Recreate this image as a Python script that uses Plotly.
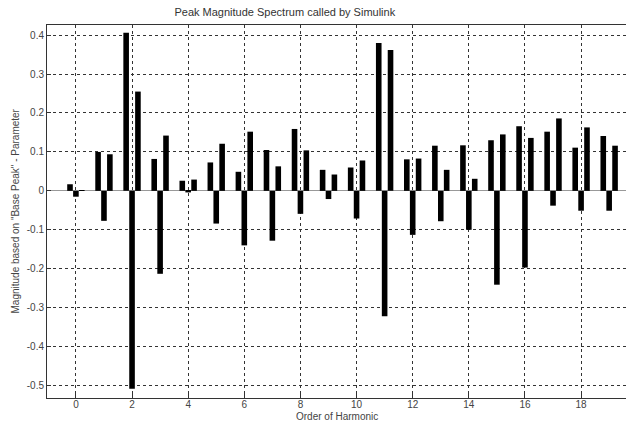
import plotly.graph_objects as go

harmonics = list(range(20))
series_a = [0.017, 0.100, 0.406, 0.082, 0.026, 0.073, 0.049, 0.105, 0.159, 0.054,
            0.060, 0.380, 0.081, 0.116, 0.117, 0.130, 0.166, 0.152, 0.111, 0.141]
series_b = [-0.015, -0.077, -0.508, -0.213, -0.004, -0.084, -0.140, -0.128, -0.059, -0.021,
            -0.071, -0.322, -0.113, -0.078, -0.100, -0.241, -0.197, -0.038, -0.051, -0.051]
series_c = [0.002, 0.094, 0.255, 0.142, 0.029, 0.121, 0.152, 0.063, 0.104, 0.042,
            0.078, 0.362, 0.083, 0.054, 0.031, 0.145, 0.136, 0.186, 0.163, 0.116]
x_ticks = list(range(0, 19, 2))
y_ticks = [-0.5, -0.4, -0.3, -0.2, -0.1, 0, 0.1, 0.2, 0.3, 0.4]
y_tick_text = ["-0.5", "-0.4", "-0.3", "-0.2", "-0.1", "0", "0.1", "0.2", "0.3", "0.4"]
x_title = "Order of Harmonic"
y_title = 'Magnitude based on "Base Peak" - Parameter'

fig = go.Figure()
for s in (series_a, series_b, series_c):
    fig.add_trace(go.Bar(x=harmonics, y=s, marker=dict(color="black", line=dict(width=0)),
                         showlegend=False, hoverinfo="skip"))

font = "Liberation Sans, Arial, sans-serif"
axis_common = dict(ticks="inside", ticklen=4, tickcolor="#333", showline=True,
                   linecolor="#333", linewidth=1, mirror=True, showgrid=True,
                   gridcolor="#333", griddash="dot", gridwidth=1, automargin=False,
                   tickfont=dict(size=10, color="#444"))
fig.update_layout(
    width=626, height=421,
    margin=dict(l=47, r=0, t=25, b=23, autoexpand=False),
    paper_bgcolor="white", plot_bgcolor="white",
    barmode="group", bargap=0.37, bargroupgap=0.05,
    font=dict(family=font, size=10, color="#444"),
    title=dict(text="Peak Magnitude Spectrum called by Simulink", x=0.455, xanchor="center",
               y=0.972, yanchor="middle", font=dict(size=11, color="#333")),
    xaxis=dict(range=[-1.03, 19.6], tickvals=x_ticks, zeroline=False,
               ticklabelstandoff=-3, **axis_common),
    yaxis=dict(range=[-0.532, 0.426], tickvals=y_ticks, ticktext=y_tick_text,
               zeroline=True, zerolinecolor="#999", zerolinewidth=1, **axis_common),
    annotations=[
        dict(text=x_title, xref="paper", yref="paper", x=0.5, y=0, yshift=-18,
             xanchor="center", yanchor="middle", showarrow=False,
             font=dict(size=10, color="#444")),
        dict(text=y_title, xref="paper", yref="paper", x=0, y=0.5, xshift=-32,
             xanchor="center", yanchor="middle", textangle=-90, showarrow=False,
             font=dict(size=10, color="#444")),
    ],
)
fig.write_html("out.html", config={"displayModeBar": False},
               post_script="document.body.style.margin='0';document.body.style.overflow='hidden';")
